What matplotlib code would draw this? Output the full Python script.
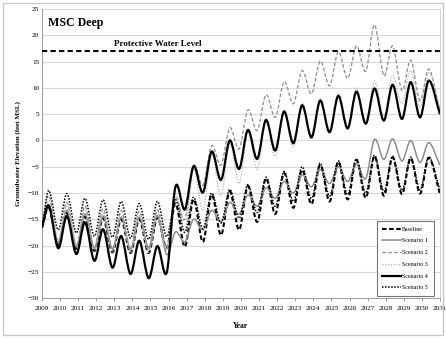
import numpy as np
import matplotlib
matplotlib.use("Agg")
import matplotlib.pyplot as plt
from matplotlib.path import Path
from matplotlib.patches import PathPatch, Rectangle
from matplotlib.lines import Line2D

plt.rcParams['font.family'] = ['Liberation Serif', 'DejaVu Serif']

# years 2009..2030: one seasonal high (spring) and one low (winter) per year
years = np.arange(2009, 2031)
start_year, end_year = 2009.0, 2031.0
protective_level = 17

names = ['Baseline', 'Scenario 1', 'Scenario 2', 'Scenario 3', 'Scenario 4', 'Scenario 5']

# value at 2009.0
starts = {
    'Baseline': -16.6, 'Scenario 1': -16.6, 'Scenario 2': -16.5,
    'Scenario 3': -16.5, 'Scenario 4': -16.6, 'Scenario 5': -16.6,
}

# seasonal highs, one per year 2009..2030
highs = {
    'Baseline':   [-12.8, -13.8, -14.5, -14.8, -15.0, -15.0, -14.6, -12.0, -11.2, -10.3, -9.7,
                   -8.7, -7.2, -6.2, -5.6, -4.6, -4.1, -3.7, -3.0, -3.2, -3.4, -3.3],
    'Scenario 1': [-12.3, -13.3, -14.0, -14.4, -14.6, -14.6, -14.3, -17.4, -15.0, -13.3, -11.8,
                   -10.4, -9.0, -7.8, -6.6, -5.6, -5.0, -4.5, 0.2, 0.3, 0.0, -0.4],
    'Scenario 2': [-10.5, -11.8, -12.5, -13.0, -13.3, -13.5, -13.2, -11.0, -4.8, -1.0, 2.4,
                   5.8, 8.7, 11.2, 13.3, 15.1, 16.9, 18.0, 22.0, 18.0, 15.3, 13.6],
    'Scenario 3': [-11.5, -12.6, -13.3, -13.8, -14.0, -14.2, -14.0, -10.0, -5.5, -2.8, -0.5,
                   1.6, 3.7, 5.8, 7.1, 8.0, 9.0, 10.0, 11.3, 12.3, 13.3, 13.0],
    'Scenario 4': [-12.4, -14.4, -15.6, -16.9, -18.2, -19.1, -20.1, -8.8, -4.9, -2.1, 0.0,
                   2.0, 3.9, 5.5, 6.7, 7.6, 8.5, 9.3, 9.9, 10.6, 11.1, 11.4],
    'Scenario 5': [-9.5, -10.1, -11.0, -11.3, -11.6, -12.0, -11.6, -11.3, -10.8, -10.0, -9.3,
                   -8.4, -7.0, -5.9, -5.0, -4.3, -3.9, -3.5, -2.8, -3.0, -3.2, -3.1],
}

# seasonal lows after each high, 2009..2029, last entry is the value at 2031.0
lows = {
    'Baseline':   [-19.8, -20.6, -21.0, -21.3, -21.4, -21.4, -20.5, -20.2, -19.3, -18.0, -17.0,
                   -15.5, -14.0, -12.8, -12.1, -11.6, -11.2, -10.9, -10.5, -10.2, -10.1, -10.2],
    'Scenario 1': [-19.5, -20.2, -20.5, -20.6, -20.6, -20.4, -21.7, -19.3, -17.0, -15.5, -14.0,
                   -12.5, -11.0, -10.0, -8.8, -8.2, -7.8, -7.2, -3.6, -3.9, -4.2, -4.7],
    'Scenario 2': [-19.3, -20.0, -20.5, -20.8, -21.0, -21.0, -20.5, -15.0, -8.5, -4.7, -1.6,
                   1.9, 4.4, 7.0, 8.9, 10.4, 11.8, 13.2, 12.3, 9.5, 7.6, 5.7],
    'Scenario 3': [-18.8, -20.0, -20.8, -21.3, -21.3, -21.3, -20.8, -17.0, -13.3, -10.5, -8.2,
                   -5.5, -3.0, -1.3, 0.2, 1.3, 2.2, 3.3, 4.6, 7.0, 6.4, 6.0],
    'Scenario 4': [-20.5, -21.6, -22.9, -24.2, -25.4, -26.2, -25.1, -13.1, -9.9, -7.5, -5.4,
                   -3.5, -1.9, -0.5, 0.6, 1.6, 2.3, 3.2, 3.8, 4.1, 4.4, 5.0],
    'Scenario 5': [-17.0, -17.6, -18.2, -18.4, -18.6, -18.8, -18.3, -17.5, -16.8, -15.7, -14.8,
                   -13.7, -12.5, -11.6, -11.0, -10.6, -10.3, -10.0, -9.7, -9.5, -9.4, -9.5],
}

styles = {
    'Baseline':   dict(color='black', lw=1.5, ls=(0, (2.2, 1.2))),
    'Scenario 1': dict(color='#8c8c8c', lw=1.1, ls='-'),
    'Scenario 2': dict(color='#8c8c8c', lw=0.9, ls=(0, (3.0, 1.6))),
    'Scenario 3': dict(color='#b4b4b4', lw=0.9, ls=(0, (1.0, 1.2))),
    'Scenario 4': dict(color='black', lw=1.6, ls='-'),
    'Scenario 5': dict(color='black', lw=1.1, ls=(0, (1.0, 1.0))),
}


def smooth_path(t, y):
    # Excel style smoothed line: cubic Bezier segments through every data point
    t = np.asarray(t, float)
    y = np.asarray(y, float)
    m = np.empty_like(y)
    m[1:-1] = (y[2:] - y[:-2]) / (t[2:] - t[:-2])
    m[0] = (y[1] - y[0]) / (t[1] - t[0])
    m[-1] = (y[-1] - y[-2]) / (t[-1] - t[-2])
    verts = [(t[0], y[0])]
    codes = [Path.MOVETO]
    for i in range(len(t) - 1):
        h = t[i + 1] - t[i]
        verts += [(t[i] + h / 3, y[i] + m[i] * h / 3),
                  (t[i + 1] - h / 3, y[i + 1] - m[i + 1] * h / 3),
                  (t[i + 1], y[i + 1])]
        codes += [Path.CURVE4] * 3
    return Path(verts, codes)


fig = plt.figure(figsize=(4.46, 3.38), dpi=100)
ax = fig.add_axes([0.094, 0.118, 0.8925, 0.855])

# seasonal timing: high in spring, low near the end of the year
high_t = years + 0.38
low_t = np.append(years[:-1] + 0.9, end_year)

for name in names:
    t = [start_year]
    v = [starts[name]]
    for i in range(len(years)):
        t += [high_t[i], low_t[i]]
        v += [highs[name][i], lows[name][i]]
    st = styles[name]
    patch = PathPatch(smooth_path(t, v), facecolor='none', edgecolor=st['color'],
                      lw=st['lw'], ls=st['ls'], capstyle='butt', zorder=3)
    ax.add_patch(patch)

ax.plot([start_year, end_year], [protective_level, protective_level], color='black',
        lw=1.5, ls=(0, (2.5, 1.6)), zorder=3)
ax.text(2015.4, protective_level + 0.6, 'Protective Water Level', ha='center', va='bottom',
        fontsize=6.5, fontweight='bold')
ax.text(2009.35, 22.4, 'MSC Deep', ha='left', va='center', fontsize=8.6, fontweight='bold')

ax.set_xlim(start_year, end_year)
ax.set_ylim(-30, 25)
ax.set_xticks(np.arange(2009, 2032))
ax.set_yticks(np.arange(-30, 26, 5))
ax.tick_params(axis='both', labelsize=5.2, length=2.5, width=0.6, color='#888888', pad=2)
ax.tick_params(axis='x', pad=3)
ax.tick_params(axis='y', length=0)
ax.grid(axis='y', color='#d9d9d9', lw=0.8)
ax.set_axisbelow(True)
ax.spines['top'].set_visible(False)
for side in ['left', 'bottom', 'right']:
    ax.spines[side].set_color('#9a9a9a')
    ax.spines[side].set_linewidth(0.7)
ax.spines['right'].set_color('#d0d0d0')

ax.set_xlabel('Year', fontsize=5.5, fontweight='bold', labelpad=8)
ax.set_ylabel('Groundwater Elevation (feet MSL)', fontsize=5, fontweight='bold', labelpad=5)

handles = [Line2D([], [], color=styles[n]['color'], lw=styles[n]['lw'], ls=styles[n]['ls'])
           for n in names]
leg = ax.legend(handles, names, loc='lower right', bbox_to_anchor=(0.984, 0.008),
                fontsize=4.3, frameon=True, fancybox=False, handlelength=3.2,
                handletextpad=0.2, labelspacing=1.1, borderpad=0.9, borderaxespad=0)
leg.get_frame().set_edgecolor('#555555')
leg.get_frame().set_linewidth(0.8)
leg.get_frame().set_facecolor('white')
leg.set_zorder(5)

fig.patches.append(Rectangle((0.007, 0.008), 0.986, 0.984, transform=fig.transFigure,
                             fill=False, edgecolor='#c8c8c8', lw=1.0))

fig.savefig('out.png', dpi=100)
